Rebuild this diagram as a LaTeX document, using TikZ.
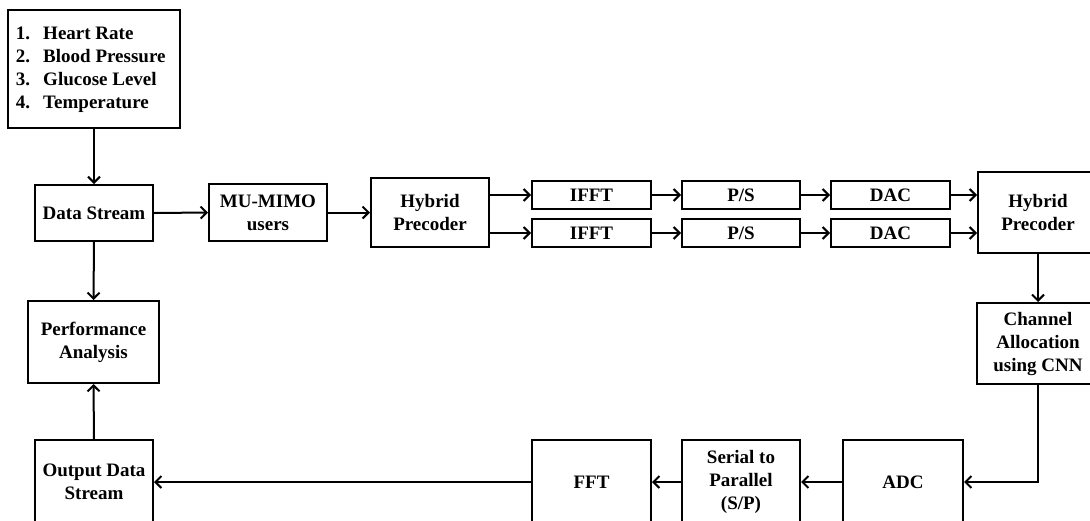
\documentclass[tikz,border=0pt]{standalone}
\usepackage{fontspec}
\setmainfont{Liberation Serif}
\usetikzlibrary{arrows.meta}
\tikzset{
  blk/.style={draw=black, line width=2pt, fill=white, align=center, inner sep=0pt,
    font=\fontsize{19}{23}\selectfont\bfseries},
  conn/.style={line width=2pt, -{Straight Barb[length=6pt,width=12pt,line width=2pt]}},
  link/.style={line width=2pt}
}
\begin{document}
\begin{tikzpicture}[x=1pt,y=-1pt]
\useasboundingbox (0,0) rectangle (1090,520);
\clip (0,0) rectangle (1090,520);
% nodes
\node[blk, minimum width=172pt, minimum height=118pt] (list) at (94,69)
  {\makebox[156pt][l]{\begin{tabular}{@{}l@{\hspace{13pt}}l@{}}1.&Heart Rate\\2.&Blood Pressure\\3.&Glucose Level\\4.&Temperature\end{tabular}}};
\node[blk, minimum width=118pt, minimum height=56pt] (ds) at (94,213) {Data Stream};
\node[blk, minimum width=118pt, minimum height=57pt] (mu) at (268,212.5) {MU-MIMO\\users};
\node[blk, minimum width=118pt, minimum height=69pt] (hpa) at (430,212.5) {Hybrid\\Precoder};
\node[blk, minimum width=119pt, minimum height=28pt] (ifa) at (591.5,195) {IFFT};
\node[blk, minimum width=119pt, minimum height=28pt] (ifb) at (591.5,233) {IFFT};
\node[blk, minimum width=118pt, minimum height=28pt] (psa) at (741,195) {P/S};
\node[blk, minimum width=118pt, minimum height=28pt] (psb) at (741,233) {P/S};
\node[blk, minimum width=119pt, minimum height=28pt] (daa) at (890.5,195) {DAC};
\node[blk, minimum width=119pt, minimum height=28pt] (dab) at (890.5,233) {DAC};
\node[blk, minimum width=120pt, minimum height=81pt] (hpb) at (1038,212.5) {Hybrid\\Precoder};
\node[blk, minimum width=122pt, minimum height=81pt] (ca) at (1038,343.5) {Channel\\Allocation\\using CNN};
\node[blk, minimum width=131pt, minimum height=82pt] (pa) at (93.5,342) {Performance\\Analysis};
\node[blk, minimum width=118pt, minimum height=84pt] (out) at (94,482) {Output Data\\Stream};
\node[blk, minimum width=119pt, minimum height=84pt] (fft) at (591.5,482) {FFT};
\node[blk, minimum width=118pt, minimum height=84pt] (sp) at (741,482) {Serial to\\Parallel\\(S/P)};
\node[blk, minimum width=120pt, minimum height=84pt] (adc) at (903,482) {ADC};
\coordinate (corner) at (ca.south |- adc.east);
% connectors
\draw[conn] (list.south) -- (ds.north);
\draw[conn] (ds.east) -- (mu.west);
\draw[conn] (mu.east) -- (hpa.west);
\draw[conn] (hpa.east |- ifa.west) -- (ifa.west);
\draw[conn] (hpa.east |- ifb.west) -- (ifb.west);
\draw[conn] (ifa.east) -- (psa.west);
\draw[conn] (ifb.east) -- (psb.west);
\draw[conn] (psa.east) -- (daa.west);
\draw[conn] (psb.east) -- (dab.west);
\draw[conn] (daa.east) -- (hpb.west |- daa.east);
\draw[conn] (dab.east) -- (hpb.west |- dab.east);
\draw[conn] (hpb.south) -- (ca.north);
\draw[conn] (ca.south) -- (corner) -- (adc.east);
\draw[conn] (adc.west) -- (sp.east);
\draw[conn] (sp.west) -- (fft.east);
\draw[conn] (fft.west) -- (out.east);
\draw[conn] (ds.south) -- (pa.north);
\draw[conn] (out.north) -- (pa.south);
\end{tikzpicture}
\end{document}
